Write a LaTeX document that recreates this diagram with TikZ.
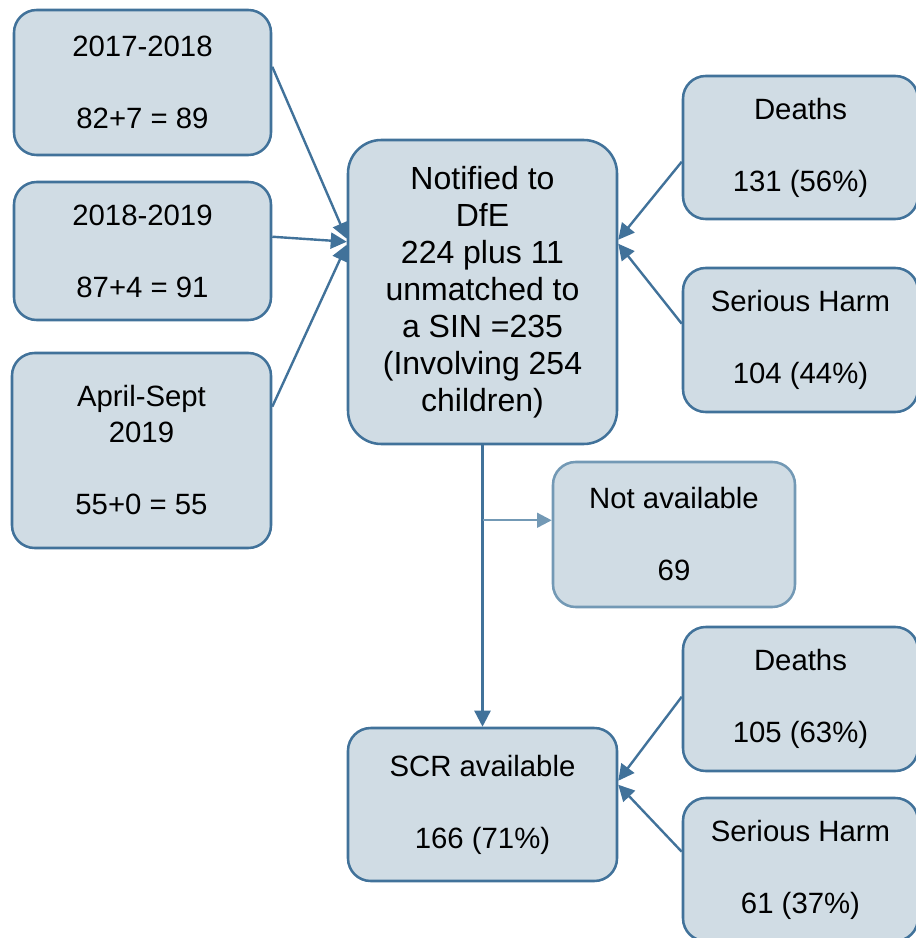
\documentclass[tikz,border=0pt]{standalone}
\usepackage{fontspec}
\setmainfont{Liberation Sans}
\usetikzlibrary{arrows.meta,calc}
\definecolor{boxfill}{HTML}{D0DCE4}
\definecolor{boxline}{HTML}{41729A}
\definecolor{boxlight}{HTML}{7399B5}
\begin{document}
\begin{tikzpicture}[x=0.75pt,y=-0.75pt,
  box/.style={draw=boxline,fill=boxfill,line width=1.9pt,rounded corners=17pt,
    align=center,inner sep=0pt,font=\fontsize{22pt}{27pt}\selectfont},
  bigbox/.style={box,rounded corners=25pt,font=\fontsize{24pt}{27.8pt}\selectfont},
  lightbox/.style={box,draw=boxlight},
  conn/.style={draw=boxline,line width=1.8pt,-{Triangle[length=12pt,width=12pt]}},
  lightconn/.style={conn,draw=boxlight,-{Triangle[length=11pt,width=11pt,fill=boxlight]}}]
\useasboundingbox (0,0) rectangle (915,938);
\node[box,minimum width={257*0.75pt},minimum height={145*0.75pt}] (a) at (142.5,82.5) {2017-2018\\[27pt]82+7 = 89};
\node[box,minimum width={257*0.75pt},minimum height={138*0.75pt}] (b) at (142.5,251) {2018-2019\\[27pt]87+4 = 91};
\node[box,minimum width={259*0.75pt},minimum height={195*0.75pt}] (c) at (141.5,450.5) {April-Sept\\2019\\[27pt]55+0 = 55};
\node[bigbox,minimum width={269*0.75pt},minimum height={304*0.75pt}] (m) at (482.5,292) {Notified to\\DfE\\224 plus 11\\unmatched to\\a SIN =235\\(Involving 254\\children)};
\node[box,minimum width={235*0.75pt},minimum height={143*0.75pt}] (d1) at (800.5,147.5) {Deaths\\[27pt]131 (56\%)};
\node[box,minimum width={235*0.75pt},minimum height={144*0.75pt}] (s1) at (800.5,340) {Serious Harm\\[27pt]104 (44\%)};
\node[lightbox,minimum width={242*0.75pt},minimum height={145*0.75pt}] (na) at (674,534.5) {Not available\\[27pt]69};
\node[box,minimum width={269*0.75pt},minimum height={153*0.75pt}] (scr) at (482.5,804.5) {SCR available\\[27pt]166 (71\%)};
\node[box,minimum width={235*0.75pt},minimum height={144*0.75pt}] (d2) at (800.5,699) {Deaths\\[27pt]105 (63\%)};
\node[box,minimum width={235*0.75pt},minimum height={143*0.75pt}] (s2) at (800.5,869.5) {Serious Harm\\[27pt]61 (37\%)};
% left inputs
\draw[conn] ($(a.north east)+(0,58)$) -- ($(m.north west)+(0,100)$);
\draw[conn] ($(b.north east)+(0,56)$) -- ($(m.north west)+(0,103)$);
\draw[conn] ($(c.north east)+(0,55)$) -- ($(m.north west)+(0,106)$);
% right inputs
\draw[conn] ($(d1.north west)+(0,87)$) -- ($(m.north east)+(0,101)$);
\draw[conn] ($(s1.north west)+(0,57)$) -- ($(m.north east)+(0,105)$);
% down
\draw[conn] (m.south) -- (scr.north);
\coordinate (br) at ($(m.south)+(0,75)$);
\draw[lightconn] (br) -- (br -| na.west);
% bottom right inputs
\draw[conn] ($(d2.north west)+(0,71)$) -- ($(scr.north east)+(0,54)$);
\draw[conn] ($(s2.north west)+(0,55)$) -- ($(scr.north east)+(0,58)$);
\end{tikzpicture}
\end{document}
